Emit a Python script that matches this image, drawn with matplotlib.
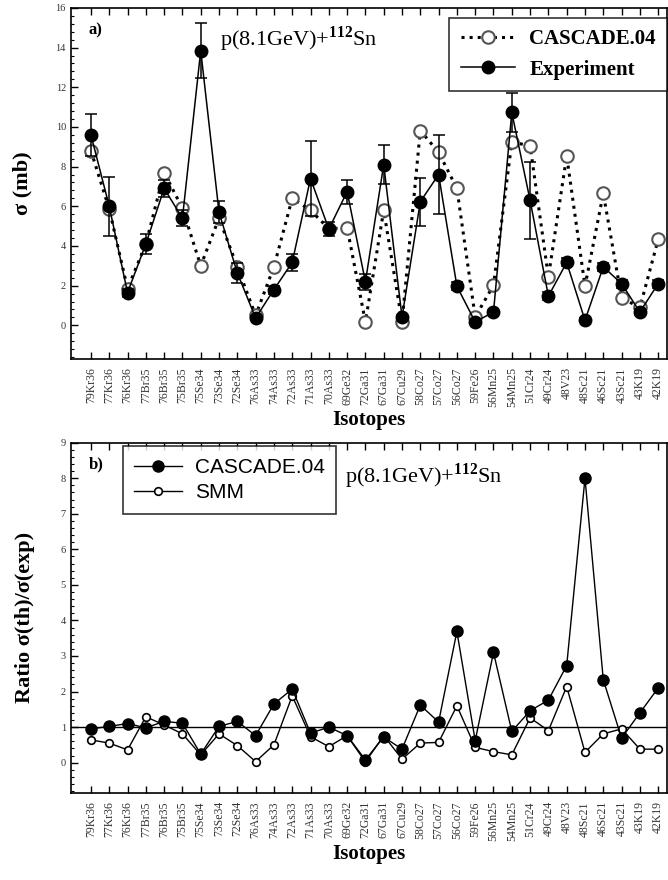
import numpy as np
import matplotlib
matplotlib.use("Agg")
import matplotlib.pyplot as plt
from matplotlib.ticker import AutoMinorLocator, MultipleLocator
from matplotlib.lines import Line2D

plt.rcParams['font.family'] = ['Liberation Serif', 'DejaVu Serif']
plt.rcParams['mathtext.fontset'] = 'custom'
plt.rcParams['mathtext.rm'] = 'Liberation Serif'
plt.rcParams['mathtext.bf'] = 'Liberation Serif:bold'

isotopes = ["79Kr36", "77Kr36", "76Kr36", "77Br35", "76Br35", "75Br35", "75Se34", "73Se34",
            "72Se34", "76As33", "74As33", "72As33", "71As33", "70As33", "69Ge32", "72Ga31",
            "67Ga31", "67Cu29", "58Co27", "57Co27", "56Co27", "59Fe26", "56Mn25", "54Mn25",
            "51Cr24", "49Cr24", "48V23", "48Sc21", "46Sc21", "43Sc21", "43K19", "42K19"]

# panel a: cross sections (mb)
sigma_exp = [9.6, 6.0, 1.65, 4.1, 6.9, 5.4, 13.85, 5.7, 2.64, 0.37, 1.8, 3.17, 7.4, 4.85, 6.74, 2.19,
             8.1, 0.42, 6.23, 7.6, 1.97, 0.17, 0.67, 10.73, 6.3, 1.47, 3.17, 0.25, 2.95, 2.1, 0.67, 2.1]
sigma_err = [1.05, 1.5, 0.2, 0.5, 0.45, 0.4, 1.4, 0.55, 0.5, 0.1, 0.2, 0.45, 1.9, 0.35, 0.6, 0.4,
             1.0, 0.1, 1.2, 2.0, 0.2, 0.1, 0.1, 1.0, 1.95, 0.2, 0.2, 0.1, 0.2, 0.2, 0.15, 0.2]
sigma_cascade = [8.8, 5.86, 1.85, 4.1, 7.7, 5.9, 3.0, 5.4, 2.95, 0.5, 2.95, 6.4, 5.8, 4.87, 4.92, 0.17,
                 5.8, 0.17, 9.82, 8.72, 6.9, 0.42, 2.02, 9.23, 9.06, 2.44, 8.54, 1.97, 6.65, 1.38, 0.9, 4.33]

# panel b: ratio sigma(th)/sigma(exp)
ratio_cascade = [0.95, 1.02, 1.1, 0.98, 1.16, 1.11, 0.24, 1.02, 1.16, 0.76, 1.65, 2.07, 0.83, 1.0, 0.76, 0.08,
                 0.72, 0.38, 1.62, 1.14, 3.69, 0.62, 3.1, 0.88, 1.46, 1.76, 2.73, 8.0, 2.33, 0.69, 1.4, 2.1]
ratio_smm = [0.64, 0.55, 0.36, 1.29, 1.06, 0.81, 0.22, 0.81, 0.48, 0.03, 0.5, 1.88, 0.73, 0.45, 0.76, 0.02,
             0.76, 0.1, 0.55, 0.57, 1.6, 0.43, 0.31, 0.22, 1.26, 0.9, 2.14, 0.29, 0.81, 0.95, 0.38, 0.38]

x = np.arange(len(isotopes))
title = r'p(8.1GeV)+$^{\mathbf{112}}$Sn'

fig = plt.figure(figsize=(6.68, 8.8), dpi=100)
ax1 = fig.add_axes([0.106, 0.592, 0.893, 0.399])
ax2 = fig.add_axes([0.106, 0.099, 0.893, 0.398])


def style_axis(ax, ymin, ymax, major):
    ax.set_xlim(-1.1, 31.5)
    ax.set_ylim(ymin, ymax)
    ax.set_xticks(x)
    ax.set_xticklabels(isotopes, rotation=90, fontsize=8.5, color='#333333')
    ax.yaxis.set_major_locator(MultipleLocator(major))
    ax.yaxis.set_minor_locator(AutoMinorLocator(5))
    ax.tick_params(axis='both', which='major', direction='in', length=5, width=1, top=True,
                   labelsize=7.5, labelcolor='#333333')
    ax.tick_params(axis='x', which='major', labelsize=8.5, pad=6)
    ax.tick_params(axis='y', which='minor', direction='in', length=2.5, width=0.8)
    for s in ax.spines.values():
        s.set_linewidth(1.2)
    ax.set_xlabel('Isotopes', fontsize=15, fontweight='bold', labelpad=2)


# ---- panel a
ax1.plot(x, sigma_cascade, ':', color='black', lw=2.2, marker='o', ms=9,
         mfc='white', mec='#555555', mew=1.5, zorder=2)
ax1.errorbar(x, sigma_exp, yerr=sigma_err, fmt='-', color='black', lw=1.1, marker='o', ms=9,
             mfc='black', mec='black', capsize=4, elinewidth=1.1, capthick=1.1, zorder=3)
style_axis(ax1, -1.7, 16, 2)
ax1.set_ylabel(r'σ (mb)', fontsize=16, fontweight='bold')
ax1.yaxis.set_label_coords(-0.065, 0.5)
ax1.text(0.03, 0.96, 'a)', transform=ax1.transAxes, fontsize=12, fontweight='bold', va='top')
ax1.text(0.25, 0.91, title, transform=ax1.transAxes, fontsize=16, va='center')
h1 = [Line2D([], [], ls=':', lw=2.2, color='black', marker='o', ms=9, mfc='white', mec='#555555', mew=1.5),
      Line2D([], [], ls='-', lw=1.1, color='black', marker='o', ms=9, mfc='black')]
leg1 = ax1.legend(h1, ['CASCADE.04', 'Experiment'], loc='upper right', bbox_to_anchor=(1.0, 0.972),
                  frameon=True, fancybox=False, edgecolor='black', handlelength=2.6, handletextpad=0.7,
                  prop={'weight': 'bold', 'size': 15}, borderpad=0.55, labelspacing=0.5,
                  borderaxespad=0)
leg1.get_frame().set_linewidth(1.2)

# ---- panel b
ax2.axhline(1, color='black', lw=1.0, zorder=1)
ax2.plot(x, ratio_cascade, '-', color='black', lw=1.0, marker='o', ms=8, mfc='black', mec='black', zorder=3)
ax2.plot(x, ratio_smm, '-', color='black', lw=1.0, marker='o', ms=5.5, mfc='white', mec='black',
         mew=1.2, zorder=2)
style_axis(ax2, -0.85, 9, 1)
ax2.set_ylabel(r'Ratio σ(th)/σ(exp)', fontsize=16, fontweight='bold')
ax2.yaxis.set_label_coords(-0.06, 0.5)
ax2.text(0.03, 0.96, 'b)', transform=ax2.transAxes, fontsize=12, fontweight='bold', va='top')
ax2.text(0.46, 0.905, title, transform=ax2.transAxes, fontsize=16, va='center')
h2 = [Line2D([], [], ls='-', lw=1.0, color='black', marker='o', ms=8, mfc='black'),
      Line2D([], [], ls='-', lw=1.0, color='black', marker='o', ms=5.5, mfc='white', mew=1.2)]
leg2 = ax2.legend(h2, ['CASCADE.04', 'SMM'], loc='upper left', bbox_to_anchor=(0.087, 0.989),
                  frameon=True, fancybox=False, edgecolor='black', handlelength=2.3, handletextpad=0.6,
                  prop={'family': 'Liberation Sans', 'size': 15}, borderpad=0.55, labelspacing=0.3,
                  borderaxespad=0)
leg2.get_frame().set_linewidth(1.2)

fig.savefig('out.png', dpi=100)
